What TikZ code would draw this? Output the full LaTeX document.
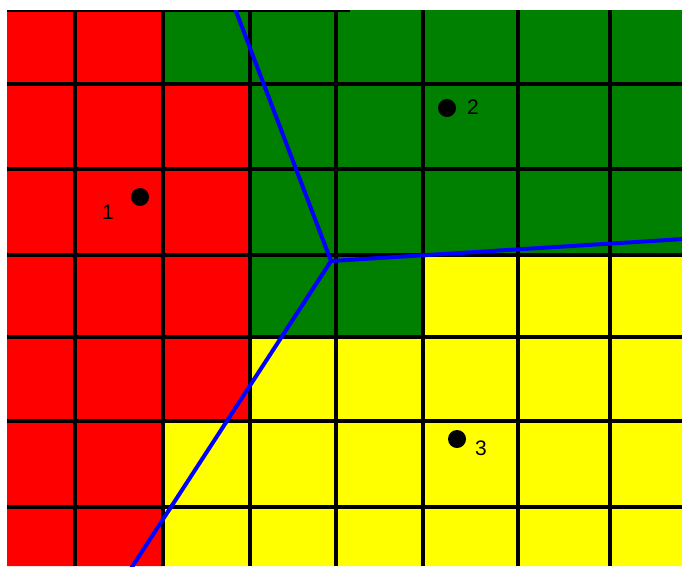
\documentclass[tikz,border=0pt]{standalone}
\usepackage{fontspec}
\setmainfont{Liberation Sans}
\definecolor{cellred}{HTML}{FF0000}
\definecolor{cellgreen}{HTML}{008000}
\definecolor{cellyellow}{HTML}{FFFF00}
\definecolor{edgeblue}{HTML}{0000FF}
\tikzset{
  gridline/.style={line width=3.2pt, black},
  border/.style={line width=4pt, edgeblue},
  site/.style={circle, fill=black, inner sep=0pt, minimum size=18pt},
  sitelabel/.style={inner sep=0pt, font=\fontsize{21}{21}\selectfont}
}
\begin{document}
\begin{tikzpicture}[x=1pt,y=-1pt]
\useasboundingbox (0,0) rectangle (682,566);
\fill[white] (0,0) rectangle (682,566);
\begin{scope}
\clip (7,10) rectangle (682,566);
% regions
\fill[cellred] (7,10) -- (163,10) -- (163,84) -- (250,84) -- (250,421) -- (163,421) -- (163,566) -- (7,566) -- cycle;
\fill[cellgreen] (163,10) -- (682,10) -- (682,255) -- (423,255) -- (423,337) -- (250,337) -- (250,84) -- (163,84) -- cycle;
\fill[cellyellow] (250,337) -- (423,337) -- (423,255) -- (682,255) -- (682,566) -- (163,566) -- (163,421) -- (250,421) -- cycle;
% grid
\foreach \gx in {75,163,250,336,423,518,610}
  \draw[gridline] (\gx,10) -- (\gx,566);
\foreach \gy in {84,169,255,337,421,507}
  \draw[gridline] (7,\gy) -- (682,\gy);
\draw[gridline] (7,10) -- (350,10);
% Voronoi edges
\coordinate (v) at (331,261);
\coordinate (etop) at (234,6);
\coordinate (eright) at (684,239);
\coordinate (ebottom) at (130,570);
\draw[border] (v) -- (etop);
\draw[border] (v) -- (eright);
\draw[border] (v) -- (ebottom);
\end{scope}
% sites
\node[site] (p1) at (140,197) {};
\node[sitelabel] (l1) at (108,212) {1};
\node[site] (p2) at (447,108) {};
\node[sitelabel] (l2) at (473,107) {2};
\node[site] (p3) at (457,439) {};
\node[sitelabel] (l3) at (481,448) {3};
\end{tikzpicture}
\end{document}
